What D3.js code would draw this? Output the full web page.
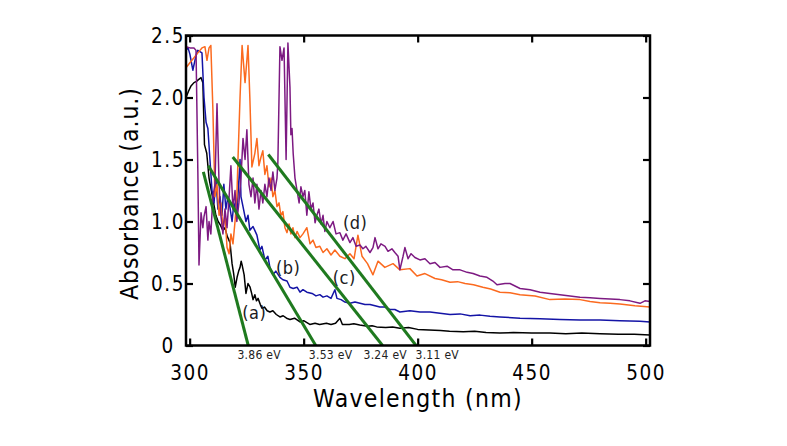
<!DOCTYPE html>
<html>
<head>
<meta charset="utf-8">
<script src="https://cdn.jsdelivr.net/npm/d3@7"></script>
<style>
  html, body { margin: 0; padding: 0; background: #fff; }
  svg { display: block; }
  text { font-family: "DejaVu Sans Condensed", "DejaVu Sans", sans-serif; font-stretch: condensed; }
</style>
</head>
<body>
<svg id="chart" width="787" height="446"></svg>
<script>
// ---------- data ----------
const xTicks = [300, 350, 400, 450, 500];
const yTicks = [0, 0.5, 1.0, 1.5, 2.0, 2.5];
const yTickLabels = ["0", "0.5", "1.0", "1.5", "2.0", "2.5"];

// (a) black
const seriesA = [[298.4,2.00],[299.5,2.05],[300.5,2.09],[301.9,2.12],[303.0,2.13],[303.6,2.14],[305.0,2.16],[305.8,2.12],[306.5,1.62],[307.5,1.55],[308.5,1.35],[309.5,1.25],[310.5,1.15],[311.5,1.05],[312.5,1.0],[313.5,0.97],[314.5,0.93],[315.5,0.95],[316.5,0.88],[317.7,0.83],[318.6,0.66],[319.3,0.58],[320.0,0.47],[320.8,0.55],[321.5,0.60],[322.1,0.63],[322.6,0.68],[323.0,0.65],[323.9,0.57],[324.7,0.42],[325.6,0.50],[326.5,0.47],[327.2,0.42],[327.8,0.37],[328.6,0.41],[329.3,0.36],[330.0,0.38],[331.0,0.33],[331.7,0.30],[332.8,0.31],[334,0.28],[335.2,0.27],[336.5,0.28],[338,0.25],[339.6,0.23],[341,0.24],[342.5,0.22],[344,0.21],[346,0.22],[348.4,0.19],[350,0.20],[352.7,0.17],[355,0.18],[357,0.17],[360,0.18],[362,0.17],[364,0.18],[365.9,0.22],[367,0.17],[370,0.17],[372,0.175],[374.6,0.165],[378,0.155],[380,0.16],[382,0.15],[386,0.145],[389,0.15],[392.2,0.14],[396,0.145],[400,0.13],[405,0.125],[410,0.12],[414,0.115],[420,0.11],[425,0.115],[430,0.105],[436,0.10],[442,0.105],[450,0.10],[458,0.10],[465,0.095],[472,0.10],[480,0.095],[488,0.09],[495,0.09],[501.9,0.085]];

// (b) blue
const seriesB = [[298.4,2.38],[299.3,2.40],[300.1,2.35],[301.4,2.22],[302.8,2.34],[303.6,2.38],[304.5,2.37],[305.4,2.36],[306.3,2.0],[307.2,1.8],[308.0,1.75],[308.9,1.5],[309.8,1.25],[310.7,1.15],[311.5,1.35],[312.4,1.1],[313.3,1.2],[314.2,1.05],[315.0,1.3],[315.9,1.1],[316.8,1.2],[317.7,1.11],[318.6,1.0],[319.4,1.15],[320.7,1.05],[322.1,1.5],[322.5,1.2],[323.4,1.12],[324.7,1.0],[325.6,1.05],[326.4,0.93],[327.8,0.96],[329.5,0.89],[330.8,0.77],[331.7,0.8],[333.0,0.69],[334.3,0.72],[335.2,0.63],[336.5,0.57],[337.8,0.6],[339.6,0.55],[340.9,0.53],[342.7,0.52],[344.0,0.47],[345.4,0.46],[347.1,0.47],[348.4,0.43],[349.7,0.45],[351.4,0.43],[353.7,0.42],[355.4,0.40],[357.1,0.41],[358.5,0.39],[360.2,0.40],[362.0,0.38],[363.7,0.45],[364.6,0.38],[366.4,0.37],[368.1,0.35],[370.3,0.34],[372.5,0.35],[374.7,0.34],[376.9,0.33],[379.1,0.33],[381.3,0.32],[383.4,0.31],[385.6,0.31],[387.8,0.29],[390.0,0.29],[392.2,0.27],[396.6,0.28],[401.0,0.27],[405.4,0.27],[409.8,0.26],[414.2,0.25],[418.6,0.255],[423.0,0.24],[427.4,0.245],[431.7,0.235],[436.1,0.23],[444.9,0.22],[453.7,0.215],[462.4,0.21],[471.2,0.205],[480.0,0.205],[488.7,0.20],[497.5,0.195],[501.9,0.19]];

// (c) orange
const seriesC = [[298.4,2.24],[300.1,2.28],[301.9,2.32],[303.6,2.36],[305.4,2.40],[306.7,2.41],[307.6,2.30],[308.5,2.40],[309.3,2.42],[310.2,1.9],[311.1,1.2],[312.0,1.3],[312.9,1.05],[313.7,1.15],[314.6,0.95],[315.5,1.05],[316.4,0.79],[317.3,0.74],[318.1,0.9],[319.0,0.82],[319.9,1.0],[320.7,1.2],[321.2,1.5],[322.1,2.0],[323.0,2.42],[324.3,2.12],[325.1,2.3],[325.6,2.42],[326.4,2.0],[327.3,1.44],[328.6,1.55],[329.5,1.67],[330.4,1.45],[331.3,1.52],[332.1,1.57],[333.0,1.38],[333.9,1.45],[334.8,1.28],[335.7,1.35],[336.5,1.2],[337.4,1.25],[338.3,1.12],[339.2,1.15],[340.0,1.05],[340.9,1.08],[341.8,0.95],[342.7,0.91],[343.6,0.98],[344.4,0.9],[345.3,0.95],[346.2,0.87],[347.1,0.92],[348.4,0.87],[349.7,0.9],[351.4,0.95],[352.8,0.82],[354.1,0.85],[355.4,0.79],[357.1,0.80],[358.5,0.75],[360.2,0.78],[362.0,0.73],[363.7,0.77],[365.9,0.72],[368.1,0.70],[370.3,0.74],[372.1,0.70],[373.8,0.89],[375.6,0.72],[378.0,0.66],[380.4,0.57],[382.6,0.68],[385.6,0.63],[389.2,0.66],[392.2,0.61],[396.6,0.62],[399.7,0.56],[403.2,0.58],[407.6,0.54],[410.5,0.53],[414.2,0.51],[417.5,0.515],[420.8,0.50],[424.5,0.49],[428.6,0.47],[432.0,0.455],[436.1,0.43],[440.5,0.425],[444.9,0.41],[451.5,0.40],[458.0,0.37],[464.6,0.375],[471.2,0.37],[475.6,0.355],[480.0,0.345],[484.4,0.34],[488.7,0.335],[495.3,0.32],[501.9,0.31]];

// (d) purple
const seriesD = [[298.4,2.41],[300.1,2.40],[301.9,2.40],[302.8,2.38],[303.6,1.4],[304.1,0.65],[305.0,1.07],[305.8,0.95],[306.3,1.04],[307.2,1.12],[308.0,0.85],[308.5,1.0],[309.3,0.9],[310.2,1.2],[311.1,1.3],[312.0,1.95],[312.9,1.3],[313.7,1.05],[314.6,0.9],[315.5,1.1],[316.4,0.95],[317.3,1.2],[318.1,1.45],[319.0,1.1],[319.9,1.25],[320.7,1.0],[321.6,1.15],[322.5,1.35],[323.4,1.67],[324.3,1.5],[325.1,1.74],[326.0,1.3],[326.9,1.2],[327.8,1.35],[328.6,1.15],[329.5,1.3],[330.4,1.1],[331.3,1.25],[332.1,1.15],[333.0,1.3],[333.9,1.2],[334.8,1.35],[335.7,1.25],[336.5,1.4],[337.4,1.25],[338.3,1.35],[338.7,1.48],[339.6,2.41],[340.5,2.30],[341.4,2.40],[342.3,1.50],[343.1,2.44],[344.0,2.08],[344.4,1.70],[344.9,1.75],[345.4,1.55],[346.2,1.35],[347.1,1.25],[348.0,1.15],[348.8,1.28],[349.7,1.2],[350.5,1.25],[351.4,1.05],[352.3,1.24],[353.2,1.1],[354.1,1.15],[355.0,0.99],[355.8,1.05],[356.7,1.1],[357.6,0.98],[358.5,1.05],[359.3,0.92],[360.2,1.0],[361.5,0.95],[362.9,1.0],[364.2,0.9],[365.9,0.91],[367.2,0.85],[368.6,0.9],[370.3,0.83],[371.6,0.87],[373.0,0.8],[374.7,0.81],[376.0,0.78],[377.3,0.8],[379.1,0.75],[380.4,0.79],[381.3,0.87],[382.6,0.78],[383.9,0.82],[385.7,0.80],[387.0,0.76],[388.7,0.78],[390.0,0.75],[391.4,0.72],[392.2,0.61],[393.6,0.72],[394.4,0.79],[395.8,0.70],[397.1,0.74],[398.8,0.71],[401.0,0.69],[403.2,0.70],[405.4,0.66],[407.6,0.67],[409.8,0.63],[412.9,0.64],[415.5,0.61],[418.6,0.61],[421.7,0.59],[424.3,0.58],[427.3,0.56],[430.4,0.55],[433.0,0.52],[434.8,0.49],[438.3,0.50],[440.5,0.50],[444.9,0.46],[449.3,0.45],[453.7,0.43],[458.0,0.42],[462.4,0.41],[466.8,0.40],[471.2,0.39],[475.6,0.385],[480.0,0.38],[484.4,0.375],[488.7,0.37],[493.1,0.36],[497.5,0.34],[499.7,0.36],[501.9,0.355]];

// Tauc-style tangent lines
const tangentStartNm = [306.0, 308.2, 318.9, 334.5];
const tangentStartAbs = [1.40, 1.45, 1.52, 1.54];
const tangentEndNm = [325.7, 355.3, 384.6, 399.3];
const gapLabels = ["3.86 eV", "3.53 eV", "3.24 eV", "3.11 eV"];
const gapLabelNm = [330.5, 361.8, 385.8, 408.6];

const curveNames = ["(a)", "(b)", "(c)", "(d)"];
const curveLabelNm = [328.3, 343.2, 367.8, 372.6];
const curveLabelAbs = [0.27, 0.63, 0.55, 0.99];

// ---------- drawing ----------
const svg = d3.select("#chart");
const L = 186, R = 650, T = 35.5, B = 345.5;
const x = d3.scaleLinear().domain([298.4, 501.9]).range([L, R]);
const y = d3.scaleLinear().domain([0, 2.5]).range([B, T]);

svg.append("defs").append("clipPath").attr("id", "clip")
  .append("rect").attr("x", L).attr("y", T).attr("width", R - L).attr("height", B - T);

const line = d3.line().x(d => x(d[0])).y(d => y(d[1]));
const series = [
  {data: seriesA, color: "#000000"},
  {data: seriesB, color: "#1414a6"},
  {data: seriesC, color: "#fb6a1f"},
  {data: seriesD, color: "#7d1a82"}
];
const gData = svg.append("g").attr("clip-path", "url(#clip)");
series.forEach(s => {
  gData.append("path").datum(s.data)
    .attr("d", line).attr("fill", "none")
    .attr("stroke", s.color).attr("stroke-width", 1.5)
    .attr("stroke-linejoin", "round");
});

tangentStartNm.forEach((s, i) => {
  gData.append("line")
    .attr("x1", x(s)).attr("y1", y(tangentStartAbs[i]))
    .attr("x2", x(tangentEndNm[i])).attr("y2", y(0))
    .attr("stroke", "#1f7a1f").attr("stroke-width", 3);
});

curveNames.forEach((n, i) => {
  svg.append("text").attr("x", x(curveLabelNm[i])).attr("y", y(curveLabelAbs[i]))
    .attr("text-anchor", "middle").attr("dominant-baseline", "central")
    .attr("font-size", 18).attr("letter-spacing", 0.5).attr("fill", "#1a1a22").text(n);
});

const axStyle = g => {
  g.select(".domain").remove();
  g.selectAll(".tick line").attr("stroke", "#000").attr("stroke-width", 2.2);
  g.selectAll(".tick text").attr("fill", "#000").attr("font-size", 20.5)
    .attr("letter-spacing", 1.5)
    .attr("font-family", "\"DejaVu Sans Condensed\", \"DejaVu Sans\", sans-serif");
};
svg.append("g").attr("transform", `translate(0,${B})`)
  .call(d3.axisBottom(x).tickValues(xTicks).tickSize(-7).tickPadding(20).tickFormat(d3.format("d")))
  .call(axStyle);
svg.append("g").attr("transform", `translate(0,${T})`)
  .call(d3.axisTop(x).tickValues(xTicks).tickSize(-7).tickFormat(""))
  .call(axStyle);
const gl = svg.append("g").attr("transform", `translate(${L},0)`)
  .call(d3.axisLeft(y).tickValues(yTicks).tickSize(-7).tickPadding(10).tickFormat((d, i) => yTickLabels[i]))
  .call(axStyle);
gl.selectAll(".tick text").attr("x", -18).attr("text-anchor", "middle");
svg.append("g").attr("transform", `translate(${R},0)`)
  .call(d3.axisRight(y).tickValues(yTicks).tickSize(-7).tickFormat(""))
  .call(axStyle);

svg.append("rect").attr("x", L).attr("y", T).attr("width", R - L).attr("height", B - T)
  .attr("fill", "none").attr("stroke", "#000").attr("stroke-width", 2.5);

gapLabels.forEach((t, i) => {
  svg.append("text").attr("x", x(gapLabelNm[i])).attr("y", 358.5)
    .attr("text-anchor", "middle").attr("font-size", 12).attr("letter-spacing", 0.3)
    .attr("fill", "#222").text(t);
});

svg.append("text").attr("x", (L + R) / 2).attr("y", 406.5).attr("text-anchor", "middle")
  .attr("font-size", 24.5).attr("letter-spacing", 1.3).attr("fill", "#000").text("Wavelength (nm)");
svg.append("text").attr("transform", `translate(138,${(T + B) / 2 + 3}) rotate(-90)`)
  .attr("text-anchor", "middle").attr("font-size", 24.5).attr("letter-spacing", 1)
  .attr("fill", "#000").text("Absorbance (a.u.)");
</script>
</body>
</html>
